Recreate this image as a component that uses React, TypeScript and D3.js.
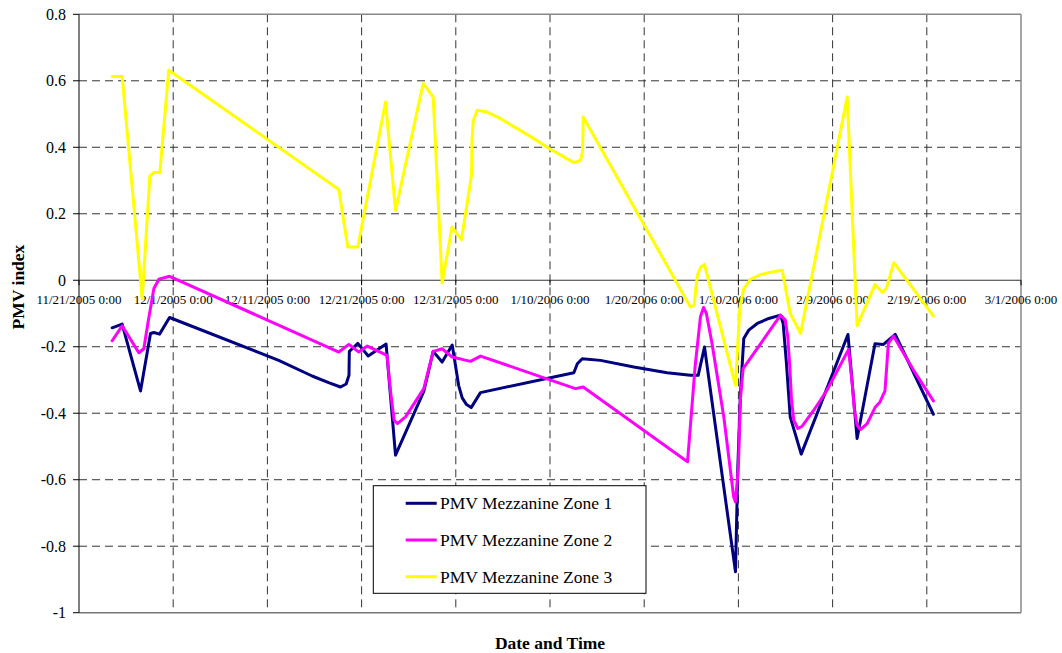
import React from "react";
import * as d3 from "d3";

// ---------- data ----------
const startLabel = "11/21/2005 0:00";
const tickLabels = [
  "11/21/2005 0:00", "12/1/2005 0:00", "12/11/2005 0:00", "12/21/2005 0:00",
  "12/31/2005 0:00", "1/10/2006 0:00", "1/20/2006 0:00", "1/30/2006 0:00",
  "2/9/2006 0:00", "2/19/2006 0:00", "3/1/2006 0:00",
];
const yTicks = [0.8, 0.6, 0.4, 0.2, 0, -0.2, -0.4, -0.6, -0.8, -1];
const seriesNames = ["PMV Mezzanine Zone 1", "PMV Mezzanine Zone 2", "PMV Mezzanine Zone 3"];
const seriesColors = ["#000080", "#FF00FF", "#FFFF00"];

// [days since 11/21/2005 0:00, PMV]
const zone1: [number, number][] = [
  [3.52, -0.143], [4.58, -0.132], [6.53, -0.333], [7.59, -0.16], [7.95, -0.157], [8.55, -0.162],
  [9.61, -0.112], [21.2, -0.241], [24.75, -0.288], [26.5, -0.308], [27.76, -0.321], [28.36, -0.312],
  [28.66, -0.286], [28.68, -0.246], [28.7, -0.214], [29.0, -0.206], [29.6, -0.19], [30.7, -0.228],
  [32.6, -0.192], [33.6, -0.526], [36.6, -0.334], [37.6, -0.214], [38.55, -0.246], [39.62, -0.195],
  [40.3, -0.316], [40.68, -0.354], [41.14, -0.374], [41.63, -0.383], [42.62, -0.338], [52.53, -0.278],
  [52.9, -0.251], [53.42, -0.236], [55.36, -0.241], [58.9, -0.261], [62.44, -0.278], [64.9, -0.286],
  [65.73, -0.286], [66.4, -0.201], [69.69, -0.877], [69.94, -0.561], [70.22, -0.341], [70.57, -0.175],
  [71.1, -0.15], [72.0, -0.13], [73.23, -0.115], [74.47, -0.105], [74.75, -0.13], [75.1, -0.25],
  [75.5, -0.411], [76.67, -0.523], [81.63, -0.163], [82.6, -0.476], [84.5, -0.191], [85.4, -0.193],
  [86.65, -0.163], [90.7, -0.403],
];
const zone2: [number, number][] = [
  [3.52, -0.182], [4.58, -0.137], [6.35, -0.218], [6.88, -0.206], [7.34, -0.125], [7.95, -0.025],
  [8.48, 0.003], [9.61, 0.012], [27.58, -0.216], [28.65, -0.193], [29.7, -0.216], [30.6, -0.198],
  [32.7, -0.226], [33.1, -0.341], [33.45, -0.421], [33.8, -0.431], [34.66, -0.411], [36.6, -0.326],
  [37.6, -0.214], [38.55, -0.206], [39.62, -0.231], [41.56, -0.244], [42.62, -0.228], [52.7, -0.326],
  [53.52, -0.321], [64.6, -0.546], [65.4, -0.261], [65.97, -0.11], [66.3, -0.082], [66.6, -0.1],
  [67.2, -0.19], [68.45, -0.411], [69.5, -0.652], [69.69, -0.667], [70.0, -0.561], [70.2, -0.361],
  [70.5, -0.266], [74.47, -0.105], [74.98, -0.12], [75.24, -0.17], [75.46, -0.261], [75.64, -0.361],
  [75.88, -0.421], [76.31, -0.446], [76.77, -0.439], [78.0, -0.391], [79.4, -0.331], [81.7, -0.208],
  [82.08, -0.311], [82.32, -0.391], [82.6, -0.436], [82.95, -0.449], [83.67, -0.431], [84.5, -0.383],
  [85.03, -0.366], [85.56, -0.333], [85.74, -0.261], [85.92, -0.19], [86.46, -0.168], [88.6, -0.271],
  [90.7, -0.363],
];
const zone3: [number, number][] = [
  [3.52, 0.613], [4.58, 0.613], [6.71, -0.055], [7.52, 0.314], [7.95, 0.324], [8.58, 0.324],
  [9.53, 0.632], [27.58, 0.273], [28.53, 0.1], [29.6, 0.1], [32.54, 0.536], [33.6, 0.21],
  [36.54, 0.592], [37.6, 0.551], [38.55, -0.008], [39.6, 0.16], [40.6, 0.122], [41.67, 0.316],
  [41.72, 0.42], [41.85, 0.48], [42.27, 0.511], [43.33, 0.506], [44.75, 0.486], [46.52, 0.456],
  [48.28, 0.426], [50.05, 0.394], [51.47, 0.371], [52.53, 0.354], [53.24, 0.361], [53.45, 0.386],
  [53.5, 0.436], [53.52, 0.491], [64.6, -0.065], [64.9, -0.08], [65.3, -0.075], [65.5, -0.02],
  [65.65, 0.015], [66.0, 0.04], [66.4, 0.047], [69.69, -0.316], [70.15, -0.085], [70.58, -0.025],
  [71.29, 0.003], [72.35, 0.017], [73.4, 0.024], [74.65, 0.03], [75.5, -0.1], [76.6, -0.16],
  [81.55, 0.551], [82.6, -0.137], [84.5, -0.013], [85.3, -0.037], [85.7, -0.025], [86.5, 0.053],
  [90.7, -0.108],
];
const seriesData = [zone1, zone2, zone3];

// ---------- layout ----------
const W = 1062;
const H = 653;
const plot = { left: 79, right: 1021, top: 14.3, bottom: 612.7 };
const FONT = "'Liberation Serif', 'Times New Roman', serif";

const parse = d3.utcParse("%m/%d/%Y %H:%M");
const t0 = parse(startLabel) as Date;
const tickDates = tickLabels.map((l) => parse(l) as Date);
const toDate = (d: number) => new Date(t0.getTime() + d * 864e5);

const x = d3.scaleUtc().domain([tickDates[0], tickDates[tickDates.length - 1]]).range([plot.left, plot.right]);
const y = d3.scaleLinear().domain([-1, 0.8]).range([plot.bottom, plot.top]);

const line = d3
  .line<[number, number]>()
  .x((d) => x(toDate(d[0])))
  .y((d) => y(d[1]))
  .curve(d3.curveLinear);

export default function App() {
  const y0 = y(0);
  const legend = { x: 373.3, y: 485.7, w: 272.7, h: 107.6 };
  const legendRows = [503.3, 540, 576.7];
  return (
    <svg
      width={W}
      height={H}
      style={{ position: "absolute", left: 0, top: 0, background: "#fff" }}
      fontFamily={FONT}
    >
      <rect x={0} y={0} width={W} height={H} fill="#fff" />
      {/* horizontal grid */}
      {yTicks
        .filter((v) => v !== 0 && v !== 0.8 && v !== -1)
        .map((v) => (
          <line key={"hg" + v} x1={plot.left} x2={plot.right} y1={y(v)} y2={y(v)}
            stroke="#333" strokeWidth={1} strokeDasharray="8,5" />
        ))}
      {/* vertical grid */}
      {tickDates.slice(1, -1).map((d, i) => (
        <line key={"vg" + i} x1={x(d)} x2={x(d)} y1={plot.top} y2={plot.bottom}
          stroke="#333" strokeWidth={1} strokeDasharray="8,5" />
      ))}
      {/* plot border */}
      <line x1={plot.left} x2={plot.right} y1={plot.top} y2={plot.top} stroke="#888" strokeWidth={1.5} />
      <line x1={plot.right} x2={plot.right} y1={plot.top} y2={plot.bottom} stroke="#888" strokeWidth={1.5} />
      <line x1={plot.left} x2={plot.right} y1={plot.bottom} y2={plot.bottom} stroke="#777" strokeWidth={1.5} />
      {/* y axis */}
      <line x1={plot.left} x2={plot.left} y1={plot.top} y2={plot.bottom} stroke="#000" strokeWidth={1} />
      {yTicks.map((v) => (
        <g key={"yt" + v}>
          <line x1={plot.left - 6} x2={plot.left} y1={y(v)} y2={y(v)} stroke="#000" strokeWidth={1} />
          <text x={66} y={y(v)} dy="0.35em" textAnchor="end" fontSize={16} fill="#000">
            {String(v)}
          </text>
        </g>
      ))}
      {/* x axis at 0 */}
      <line x1={plot.left} x2={plot.right} y1={y0} y2={y0} stroke="#333" strokeWidth={1.2} />
      {tickDates.map((d, i) => (
        <g key={"xt" + i}>
          <line x1={x(d)} x2={x(d)} y1={y0} y2={y0 + 5} stroke="#000" strokeWidth={1} />
          <text x={x(d)} y={304} textAnchor="middle" fontSize={13} fill="#000">
            {tickLabels[i]}
          </text>
        </g>
      ))}
      {/* series */}
      {seriesData.map((s, i) => (
        <path key={"s" + i} d={line(s) || ""} fill="none" stroke={seriesColors[i]}
          strokeWidth={3} strokeLinejoin="round" strokeLinecap="round" />
      ))}
      {/* legend */}
      <rect x={legend.x} y={legend.y} width={legend.w} height={legend.h} fill="#fff" stroke="#000" strokeWidth={1} />
      {seriesNames.map((n, i) => (
        <g key={"lg" + i}>
          <line x1={405.7} x2={436.7} y1={legendRows[i]} y2={legendRows[i]} stroke={seriesColors[i]} strokeWidth={3} />
          <text x={440} y={legendRows[i]} dy="0.35em" fontSize={17.5} fill="#000">
            {n}
          </text>
        </g>
      ))}
      {/* axis titles */}
      <text x={550} y={649} textAnchor="middle" fontSize={17.5} fontWeight="bold" fill="#000">
        Date and Time
      </text>
      <text transform={`translate(24, 287) rotate(-90)`} textAnchor="middle" fontSize={17.5} fontWeight="bold" fill="#000">
        PMV index
      </text>
    </svg>
  );
}
